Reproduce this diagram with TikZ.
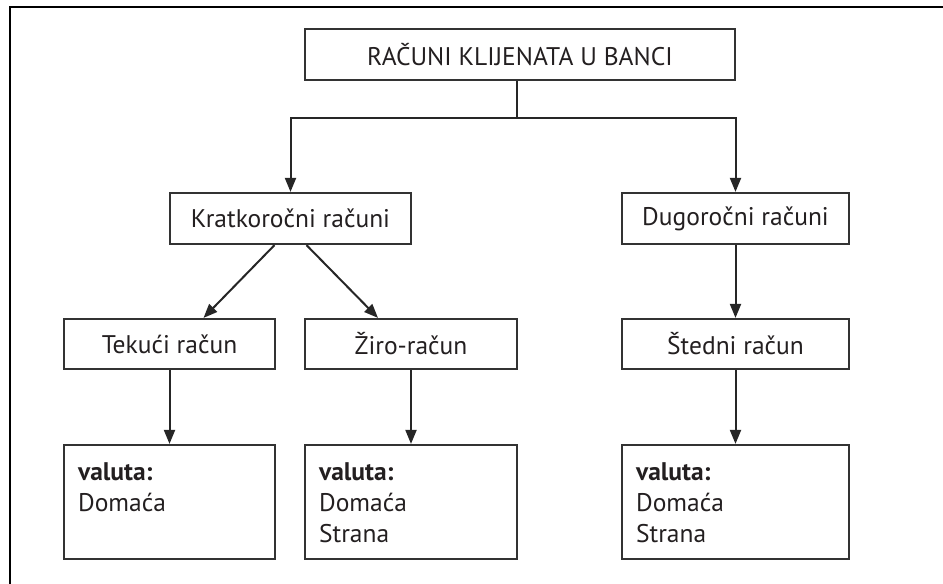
\documentclass[tikz,border=0pt]{standalone}
\usepackage{fontspec}
\setmainfont{PT Sans}
\usetikzlibrary{arrows.meta}
\definecolor{ink}{HTML}{231F20}
\definecolor{edge}{HTML}{333333}
\tikzset{
  box/.style={draw=edge, line width=2.2pt, inner sep=0pt, text=ink,
              font=\fontsize{25.5}{30}\selectfont},
  conn/.style={draw=black!85, line width=2pt},
  arr/.style={conn, -{Triangle[length=14pt,width=11pt]}},
  list/.style={anchor=base west, align=left, inner sep=0pt, text=ink,
               font=\fontsize{25.5}{31}\selectfont},
  frame/.style={draw=black, line width=2.6pt}
}
\begin{document}
\begin{tikzpicture}[x=1pt,y=-1pt]
\useasboundingbox (0,0) rectangle (943,584);
\draw[frame] (10,584) -- (10,7) -- (943,7);

\node[box, minimum width=430pt, minimum height=51pt] (top) at (520,54.5) {RAČUNI KLIJENATA U BANCI};
\node[box, minimum width=241pt, minimum height=51pt] (krat) at (290.5,218.5) {Kratkoročni računi};
\node[box, minimum width=227pt, minimum height=51pt] (dug) at (735.5,218.5) {Dugoročni računi};
\node[box, minimum width=211pt, minimum height=50pt] (tek) at (169.5,344) {Tekući račun};
\node[box, minimum width=212pt, minimum height=50pt] (ziro) at (411,344) {Žiro-račun};
\node[box, minimum width=227pt, minimum height=50pt] (sted) at (735.5,344) {Štedni račun};
\node[box, minimum width=211pt, minimum height=114pt] (tekv) at (169.5,502) {};
\node[box, minimum width=212pt, minimum height=114pt] (zirov) at (411,502) {};
\node[box, minimum width=227pt, minimum height=114pt] (stedv) at (735.5,502) {};

\node[list] (tekt) at ([xshift=15pt,yshift=-68pt]tekv.north west) {\textbf{valuta:}\\Domaća};
\node[list] (zirot) at ([xshift=15pt,yshift=-99pt]zirov.north west) {\textbf{valuta:}\\Domaća\\Strana};
\node[list] (stedt) at ([xshift=15pt,yshift=-99pt]stedv.north west) {\textbf{valuta:}\\Domaća\\Strana};

\coordinate (j) at (517,118);
\draw[conn] (top.south -| j) -- (j);
\draw[arr] (j) -- (j -| krat.north) -- (krat.north);
\draw[arr] (j) -- (j -| dug.north) -- (dug.north);
\draw[arr] ([xshift=-16pt]krat.south) -- ([xshift=34pt]tek.north);
\draw[arr] ([xshift=16pt]krat.south) -- ([xshift=-33pt]ziro.north);
\draw[arr] (dug.south) -- (sted.north);
\draw[arr] (tek.south) -- (tekv.north);
\draw[arr] (ziro.south) -- (zirov.north);
\draw[arr] (sted.south) -- (stedv.north);
\end{tikzpicture}
\end{document}
